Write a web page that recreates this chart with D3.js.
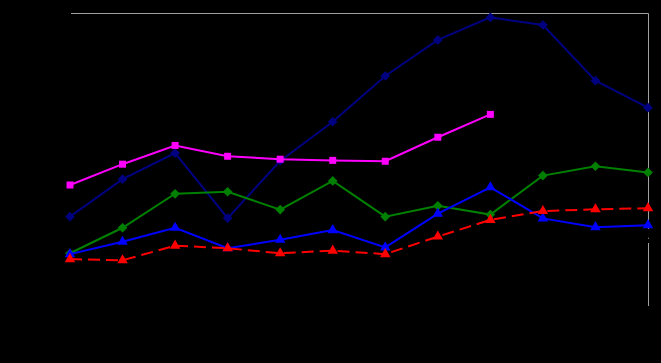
<!DOCTYPE html>
<html>
<head>
<meta charset="utf-8">
<script src="https://cdn.jsdelivr.net/npm/d3@7"></script>
<style>
  html, body { margin: 0; padding: 0; background: #000; }
  svg { display: block; }
</style>
</head>
<body>
<div id="chart"></div>
<script>
// categories (12 periods, labels not visible in the reference)
const categories = ["1", "2", "3", "4", "5", "6", "7", "8", "9", "10", "11", "12"]

// series values
const navy    = [30.5, 43.3, 52.2, 30.0, 49.5, 62.9, 78.5, 90.8, 98.5, 95.9, 76.9, 67.7]
const magenta = [41.3, 48.4, 54.8, 51.1, 50.1, 49.7, 49.4, 57.6, 65.4]
const green   = [18.0, 26.7, 38.3, 39.0, 32.9, 42.7, 30.5, 34.2, 31.2, 44.5, 47.7, 45.6]
const blue    = [17.7, 21.9, 26.7, 19.7, 22.6, 25.9, 20.0, 31.5, 40.5, 29.9, 26.9, 27.6]
const red     = [16.0, 15.6, 20.6, 19.7, 18.0, 18.9, 17.7, 23.7, 29.4, 32.4, 33.0, 33.4]

const series = [
  { values: navy,    color: "#000080", marker: "diamond",  dash: null },
  { values: magenta, color: "#FF00FF", marker: "square",   dash: null },
  { values: green,   color: "#008000", marker: "diamond",  dash: null },
  { values: blue,    color: "#0000FF", marker: "triangle", dash: null },
  { values: red,     color: "#FF0000", marker: "triangle", dash: "12,6" }
]

var width = 661, height = 363
var margin = { top: 13, right: 13, bottom: 57, left: 70 }

var svg = d3.select("#chart").append("svg")
  .attr("width", width)
  .attr("height", height)
  .style("background", "#000")

var xScale = d3.scalePoint()
  .domain(categories)
  .range([margin.left, width - margin.right])

var yScale = d3.scaleLinear()
  .domain([0, 100])
  .range([height - margin.bottom, margin.top])

// plot frame: only the top and right edges show (grey), the rest is black on black
var x0 = margin.left, x1 = width - margin.right
var y0 = margin.top, y1 = height - margin.bottom
svg.append("path")
  .attr("d", `M${x0 + 1},${y0 + 0.5}H${x1 + 0.5}V${y1}`)
  .attr("fill", "none")
  .attr("stroke", "#a0a0a0")
  .attr("stroke-width", 1)

// black axes (invisible against the background, as in the original)
svg.append("g")
  .attr("transform", "translate(0," + y1 + ")")
  .call(d3.axisBottom(xScale).tickSize(0))
  .call(g => g.selectAll("path,line").attr("stroke", "#000"))
  .call(g => g.selectAll("text").attr("fill", "#000"))
svg.append("g")
  .attr("transform", "translate(" + x0 + ",0)")
  .call(d3.axisLeft(yScale).ticks(5))
  .call(g => g.selectAll("path,line").attr("stroke", "#000"))
  .call(g => g.selectAll("text").attr("fill", "#000"))

// small black break in the right edge
svg.append("rect")
  .attr("x", x1 - 1.5).attr("width", 4)
  .attr("y", yScale(26.3)).attr("height", yScale(21.5) - yScale(26.3))
  .attr("fill", "#000")
svg.append("rect")
  .attr("x", x1).attr("width", 1)
  .attr("y", yScale(23.3)).attr("height", 1)
  .attr("fill", "#a0a0a0")

var line = d3.line()
  .x((d, i) => xScale(categories[i]))
  .y(d => yScale(d))

var symbolFor = {
  diamond: d3.symbol().type(d3.symbolDiamond2).size(60),
  square: d3.symbol().type(d3.symbolSquare).size(49),
  triangle: d3.symbol().type(d3.symbolTriangle).size(48)
}

series.forEach(s => {
  svg.append("path")
    .datum(s.values)
    .attr("fill", "none")
    .attr("stroke", s.color)
    .attr("stroke-width", 2)
    .attr("stroke-dasharray", s.dash)
    .attr("d", line)

  svg.selectAll(null)
    .data(s.values)
    .enter().append("path")
    .attr("transform", (d, i) => "translate(" + xScale(categories[i]) + "," + yScale(d) + ")")
    .attr("d", symbolFor[s.marker])
    .attr("fill", s.color)
})
</script>
</body>
</html>
